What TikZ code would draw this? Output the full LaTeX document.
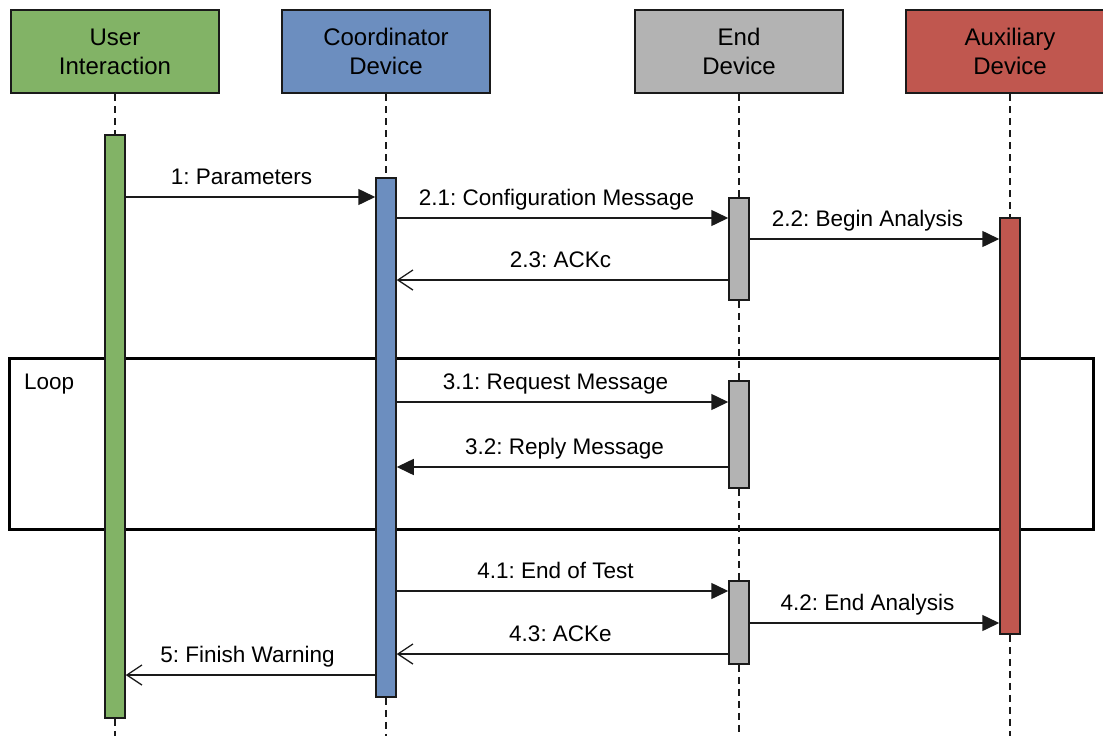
\documentclass[tikz,border=0pt]{standalone}
\usepackage{fontspec}
\setmainfont{Liberation Sans}
\usetikzlibrary{arrows.meta,backgrounds}
\definecolor{uigreen}{HTML}{82B366}
\definecolor{cdblue}{HTML}{6C8EBF}
\definecolor{edgray}{HTML}{B3B3B3}
\definecolor{axred}{HTML}{C0574F}
\definecolor{ink}{HTML}{1A1A1A}
\frenchspacing

\begin{document}
\begin{tikzpicture}[x=1pt,y=-1pt,
  head/.style={draw=ink, line width=2pt, minimum width=208pt, minimum height=83pt,
    inner sep=0pt, align=center, font=\fontsize{24}{29}\selectfont},
  actbar/.style={draw=ink, line width=1.5pt, minimum width=20pt, inner sep=0pt},
  life/.style={draw=ink, line width=1.6pt, dash pattern=on 7pt off 5pt},
  sync/.style={draw=ink, line width=1.5pt, -{Triangle[length=17pt,width=16pt]}},
  reply/.style={draw=ink, line width=1.3pt, -{Straight Barb[length=15pt,width=20pt,line width=1.3pt]}},
  lbl/.style={midway, anchor=base, yshift=13pt, inner sep=0pt,
    font=\fontsize{22.5}{27}\selectfont}
]
\useasboundingbox (0,0) rectangle (1103,736);

% participants
\node[head, fill=uigreen] (ui) at (115,51.5) {User\\Interaction};
\node[head, fill=cdblue]  (cd) at (386,51.5) {Coordinator\\Device};
\node[head, fill=edgray]  (ed) at (739,51.5) {End\\Device};
\node[head, fill=axred]   (ax) at (1010,51.5) {Auxiliary\\Device};

% activation bars
\node[actbar, fill=uigreen, minimum height=583pt] (ub) at (115,426.5) {};
\node[actbar, fill=cdblue,  minimum height=519pt] (cb) at (386,437.5) {};
\node[actbar, fill=edgray,  minimum height=102pt] (eb1) at (739,249) {};
\node[actbar, fill=edgray,  minimum height=107pt] (eb2) at (739,434.5) {};
\node[actbar, fill=edgray,  minimum height=83pt]  (eb3) at (739,622.5) {};
\node[actbar, fill=axred,   minimum height=416pt] (ab) at (1010,426) {};

% lifeline ends
\coordinate (uiend) at (115,740);
\coordinate (cdend) at (386,740);
\coordinate (edend) at (739,740);
\coordinate (axend) at (1010,740);

\begin{scope}[on background layer]
  % loop frame
  \node[draw=black, line width=3pt, minimum width=1084pt, minimum height=171pt, inner sep=0pt]
    (loop) at (551,443.5) {};
  \node[anchor=base west, inner sep=0pt, font=\fontsize{22.5}{27}\selectfont]
    (looplbl) at (24,389) {Loop};
  % dashed lifelines
  \draw[life] (ui.south) -- (ub.north);
  \draw[life] (ub.south) -- (uiend);
  \draw[life] (cd.south) -- (cb.north);
  \draw[life] (cb.south) -- (cdend);
  \draw[life] (ed.south) -- (eb1.north);
  \draw[life] (eb1.south) -- (eb2.north);
  \draw[life] (eb2.south) -- (eb3.north);
  \draw[life] (eb3.south) -- (edend);
  \draw[life] (ax.south) -- (ab.north);
  \draw[life] (ab.south) -- (axend);
\end{scope}

% messages
\draw[sync] (ub.east |- 0,197) -- (cb.west |- 0,197)
  node[lbl, xshift=-9pt] {1: Parameters};
\draw[sync] (cb.east |- 0,218) -- (eb1.west |- 0,218)
  node[lbl, xshift=-6pt] {2.1: Configuration Message};
\draw[sync] (eb1.east |- 0,239) -- (ab.west |- 0,239)
  node[lbl, xshift=-7pt] {2.2: Begin Analysis};
\draw[reply] (eb1.west |- 0,280) -- (cb.east |- 0,280)
  node[lbl, xshift=-2pt] {2.3: ACKc};
\draw[sync] (cb.east |- 0,402) -- (eb2.west |- 0,402)
  node[lbl, xshift=-7pt] {3.1: Request Message};
\draw[sync] (eb2.west |- 0,467) -- (cb.east |- 0,467)
  node[lbl, xshift=2pt] {3.2: Reply Message};
\draw[sync] (cb.east |- 0,591) -- (eb3.west |- 0,591)
  node[lbl, xshift=-7pt] {4.1: End of Test};
\draw[sync] (eb3.east |- 0,623) -- (ab.west |- 0,623)
  node[lbl, xshift=-7pt] {4.2: End Analysis};
\draw[reply] (eb3.west |- 0,654) -- (cb.east |- 0,654)
  node[lbl, xshift=-2pt] {4.3: ACKe};
\draw[reply] (cb.west |- 0,675) -- (ub.east |- 0,675)
  node[lbl, xshift=-3pt] {5: Finish Warning};
\end{tikzpicture}
\end{document}
